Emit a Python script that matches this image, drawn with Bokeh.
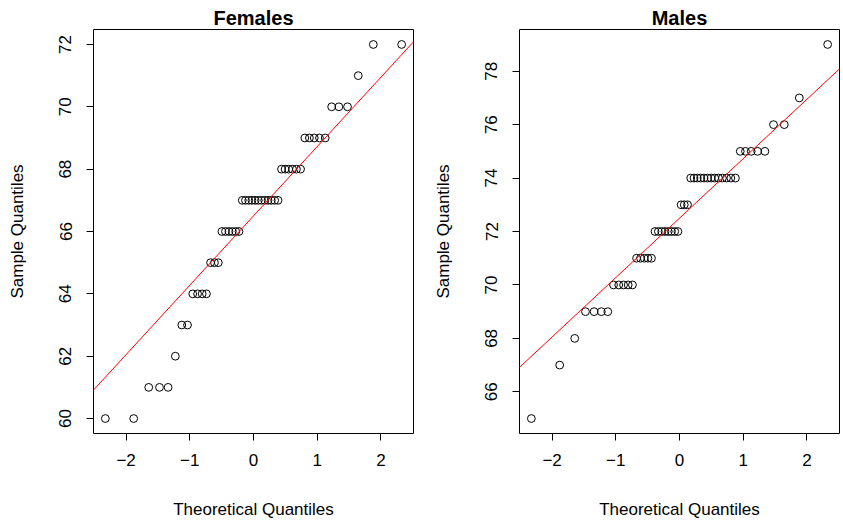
from statistics import NormalDist

import numpy as np
from bokeh.embed import file_html
from bokeh.layouts import row
from bokeh.models import FixedTicker, Range1d, Slope
from bokeh.plotting import figure
from bokeh.resources import INLINE

# Normal scores for a sample of 50 (ppoints, a = 0.5), shared by both panels
theoretical_q = [
    -2.326, -1.881, -1.645, -1.476, -1.341, -1.227, -1.126, -1.036, -0.954, -0.878,
    -0.806, -0.739, -0.674, -0.613, -0.553, -0.496, -0.440, -0.385, -0.332, -0.279,
    -0.228, -0.176, -0.126, -0.075, -0.025, 0.025, 0.075, 0.126, 0.176, 0.228,
    0.279, 0.332, 0.385, 0.440, 0.496, 0.553, 0.613, 0.674, 0.739, 0.806,
    0.878, 0.954, 1.036, 1.126, 1.227, 1.341, 1.476, 1.645, 1.881, 2.326,
]

# Sorted heights (inches)
female_heights = [
    60, 60, 61, 61, 61, 62, 63, 63, 64, 64,
    64, 64, 65, 65, 65, 66, 66, 66, 66, 66,
    66, 67, 67, 67, 67, 67, 67, 67, 67, 67,
    67, 67, 67, 68, 68, 68, 68, 68, 68, 69,
    69, 69, 69, 69, 70, 70, 70, 71, 72, 72,
]
male_heights = [
    65, 67, 68, 69, 69, 69, 69, 70, 70, 70,
    70, 70, 71, 71, 71, 71, 71, 72, 72, 72,
    72, 72, 72, 72, 72, 73, 73, 73, 74, 74,
    74, 74, 74, 74, 74, 74, 74, 74, 74, 74,
    74, 75, 75, 75, 75, 75, 76, 76, 77, 79,
]

panel_titles = ["Females", "Males"]
x_ticks = [-2, -1, 0, 1, 2]
female_y_ticks = [60, 62, 64, 66, 68, 70, 72]
male_y_ticks = [66, 68, 70, 72, 74, 76, 78]

FONT = "Liberation Sans"


def padded_range(values):
    lo, hi = min(values), max(values)
    pad = (hi - lo) * 0.04
    return Range1d(lo - pad, hi + pad)


def style_axis(axis, ticks):
    axis.ticker = FixedTicker(ticks=ticks)
    axis.bounds = (ticks[0], ticks[-1])
    axis.axis_line_color = "black"
    axis.axis_line_width = 1
    axis.major_tick_line_color = "black"
    axis.major_tick_line_width = 1
    axis.major_tick_out = 7
    axis.major_tick_in = 0
    axis.minor_tick_line_color = None
    axis.major_label_text_font = FONT
    axis.major_label_text_font_size = "17px"
    axis.major_label_text_color = "black"
    axis.axis_label_text_font = FONT
    axis.axis_label_text_font_size = "17px"
    axis.axis_label_text_font_style = "normal"
    axis.axis_label_text_color = "black"


def qq_panel(title, sample, y_ticks, width, left, right):
    x = np.array(theoretical_q)
    y = np.array(sample, dtype=float)
    p = figure(
        width=width, height=522,
        output_backend="svg", toolbar_location=None,
        x_range=padded_range(theoretical_q), y_range=padded_range(sample),
        min_border_left=left, min_border_right=right,
        min_border_top=29, min_border_bottom=89,
        title=title,
        x_axis_label="Theoretical Quantiles", y_axis_label="Sample Quantiles",
    )
    p.grid.visible = False
    p.background_fill_color = "white"
    p.border_fill_color = "white"
    p.outline_line_color = "black"
    p.outline_line_width = 1
    p.outline_line_alpha = 1.0

    p.title.align = "center"
    p.title.text_font = FONT
    p.title.text_font_size = "20px"
    p.title.text_font_style = "bold"
    p.title.text_color = "black"
    p.title.standoff = 2

    style_axis(p.xaxis[0], x_ticks)
    style_axis(p.yaxis[0], y_ticks)
    p.xaxis.major_label_standoff = 13
    p.xaxis.axis_label_standoff = 31
    p.yaxis.major_label_orientation = "vertical"
    p.yaxis.major_label_standoff = 15
    p.yaxis.axis_label_standoff = 30

    p.scatter(x, y, marker="circle", size=7.8, fill_color=None,
              line_color="black", line_width=1)

    # Reference line through the first and third quartiles
    nd = NormalDist()
    zq = np.array([nd.inv_cdf(0.25), nd.inv_cdf(0.75)])
    yq = np.quantile(y, [0.25, 0.75])
    slope = (yq[1] - yq[0]) / (zq[1] - zq[0])
    intercept = yq[0] - slope * zq[0]
    p.add_layout(Slope(gradient=slope, y_intercept=intercept,
                       line_color="red", line_width=1))
    return p


females = qq_panel(panel_titles[0], female_heights, female_y_ticks, 421, 93, 8)
males = qq_panel(panel_titles[1], male_heights, male_y_ticks, 422, 98, 4)

layout = row(females, males)
open("out.html", "w").write(file_html(layout, INLINE))
